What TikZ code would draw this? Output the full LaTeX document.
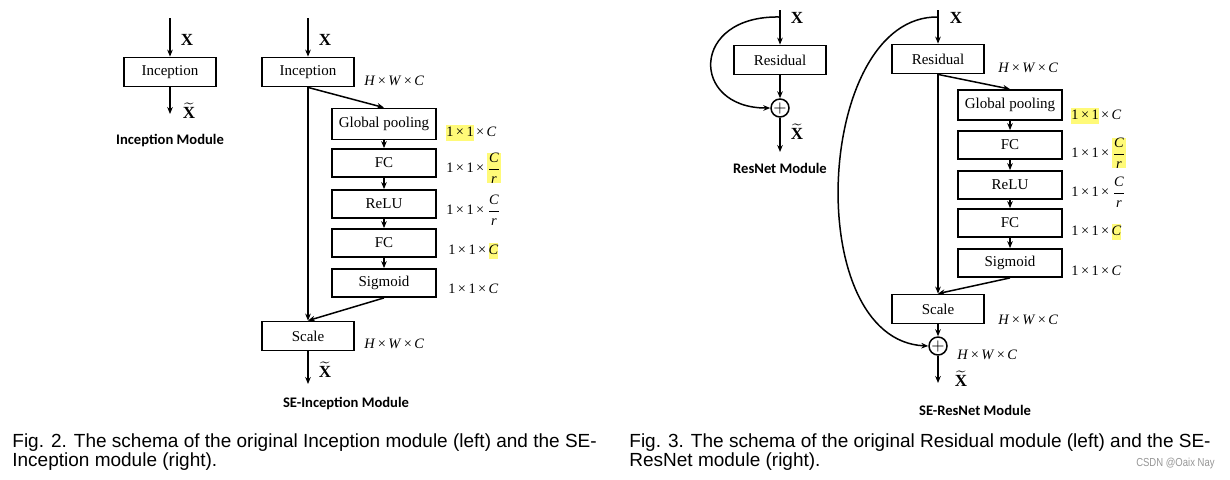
\documentclass[tikz,border=0pt]{standalone}
\usepackage{amsmath}
\usepackage{fontspec}
\setmainfont{Liberation Serif}
\newfontfamily\capfont{Liberation Sans}
\newfontfamily\wmfont[FakeStretch=0.82]{Liberation Sans}
\newfontfamily\modfont{Carlito}
\usetikzlibrary{arrows.meta}
\definecolor{hl}{RGB}{255,250,120}
\definecolor{wm}{RGB}{150,150,150}
\newcommand{\hlb}[1]{{\setlength{\fboxsep}{0pt}\colorbox{hl}{\strut #1}}}
\newcommand{\tx}{\,×\,}
\newcommand{\fr}{$\dfrac{\textit{C}}{\textit{r}}$}
\begin{document}
\begin{tikzpicture}[x=0.5pt,y=-0.5pt,
  blk/.style={draw,line width=0.9pt,inner sep=0pt,font=\fontsize{7.5}{9}\selectfont},
  wbox/.style={blk,minimum width=46pt,minimum height=14.5pt},
  sbox/.style={blk,minimum width=52pt,minimum height=14pt},
  arr/.style={line width=0.75pt,-{Stealth[length=3.5pt,width=2.8pt]}},
  ln/.style={line width=0.75pt},
  dim/.style={font=\fontsize{7.2}{8}\selectfont,anchor=west,inner sep=0pt},
  xl/.style={font=\fontsize{8.5}{9}\selectfont,inner sep=0pt},
  modl/.style={font=\modfont\bfseries\fontsize{7.3}{8}\selectfont,inner sep=0pt},
  captxt/.style={font=\capfont\fontsize{9.5}{10}\selectfont,anchor=base west,inner sep=0pt},
  plus/.style={draw,circle,line width=0.75pt,minimum size=9pt,inner sep=0pt,font=\fontsize{8}{8}\selectfont}]
\useasboundingbox (0,0) rectangle (1230,479);

% ---------- Inception module ----------
\coordinate (iin) at (170,18);
\node[wbox] (inc) at (170,72) {Inception};
\coordinate (iout) at (170,114);
\draw[arr] (iin) -- (inc);
\draw[arr] (inc) -- (iout);
\node[xl] (ix) at (187,40) {$\mathbf{X}$};
\node[xl] (ixt) at (189,111) {$\widetilde{\mathbf{X}}$};
\node[modl] (imod) at (170,141) {Inception Module};

% ---------- SE-Inception module ----------
\coordinate (sin) at (308,18);
\node[wbox] (sinc) at (308,72) {Inception};
\node[sbox,minimum height=15.5pt] (sgp) at (384,124) {Global pooling};
\node[sbox] (sfc1) at (384,163) {FC};
\node[sbox] (srelu) at (384,204) {ReLU};
\node[sbox] (sfc2) at (384,243) {FC};
\node[sbox] (ssig) at (384,283) {Sigmoid};
\node[wbox] (sscale) at (308,336) {Scale};
\coordinate (sout) at (308,384);
\draw[arr] (sin) -- (sinc);
\draw[arr] (sinc.south) -- (sgp.north);
\draw[arr] (sgp) -- (sfc1);
\draw[arr] (sfc1) -- (srelu);
\draw[arr] (srelu) -- (sfc2);
\draw[arr] (sfc2) -- (ssig);
\draw[arr] (ssig.south) -- (sscale.north);
\draw[arr] (sinc.south) -- (sscale.north);
\draw[arr] (sscale) -- (sout);
\node[xl] (sx) at (325,40) {$\mathbf{X}$};
\node[xl] (sxt) at (325,370) {$\widetilde{\mathbf{X}}$};
\node[dim] (sd0) at (364,81) {\textit{H}\tx\textit{W}\tx\textit{C}};
\node[dim] (sd1) at (446,133) {\hlb{1\tx1}\tx\textit{C}};
\node[dim] (sd2) at (446,168) {1\tx1\tx\hlb{\fr}};
\node[dim] (sd3) at (446,210) {1\tx1\tx\fr};
\node[dim] (sd4) at (448,251) {1\tx1\tx\hlb{\textit{C}}};
\node[dim] (sd5) at (448,289) {1\tx1\tx\textit{C}};
\node[dim] (sd6) at (364,344) {\textit{H}\tx\textit{W}\tx\textit{C}};
\node[modl] (smod) at (346,403) {SE-Inception Module};

% ---------- ResNet module ----------
\coordinate (rin) at (780,10);
\coordinate (rtop) at (780,17);
\node[wbox] (rres) at (780,60) {Residual};
\node[plus] (rplus) at (780,108) {$+$};
\coordinate (rout) at (780,152);
\draw[ln] (rin) -- (rtop);
\draw[arr] (rtop) -- (rres);
\draw[arr] (rres) -- (rplus);
\draw[arr] (rplus) -- (rout);
\draw[arr] (rtop) .. controls (690,15) and (690,108) .. (rplus.west);
\node[xl] (rx) at (797,18) {$\mathbf{X}$};
\node[xl] (rxt) at (797,132) {$\widetilde{\mathbf{X}}$};
\node[modl] (rmod) at (780,168) {ResNet Module};

% ---------- SE-ResNet module ----------
\coordinate (ein) at (938,10);
\coordinate (etop) at (938,17);
\node[wbox] (eres) at (938,59) {Residual};
\node[sbox,minimum height=15pt] (egp) at (1010,105) {Global pooling};
\node[sbox] (efc1) at (1010,145) {FC};
\node[sbox] (erelu) at (1010,185) {ReLU};
\node[sbox] (efc2) at (1010,223) {FC};
\node[sbox] (esig) at (1010,263) {Sigmoid};
\node[wbox] (escale) at (938,309) {Scale};
\node[plus] (eplus) at (938,346) {$+$};
\coordinate (eout) at (938,383);
\draw[ln] (ein) -- (etop);
\draw[arr] (etop) -- (eres);
\draw[arr] (eres.south) -- (egp.north);
\draw[arr] (egp) -- (efc1);
\draw[arr] (efc1) -- (erelu);
\draw[arr] (erelu) -- (efc2);
\draw[arr] (efc2) -- (esig);
\draw[arr] (esig.south) -- (escale.north);
\draw[arr] (eres.south) -- (escale.north);
\draw[arr] (escale) -- (eplus);
\draw[arr] (eplus) -- (eout);
\draw[arr] (etop) .. controls (815,15) and (800,340) .. (eplus.west);
\node[xl] (ex) at (956,18) {$\mathbf{X}$};
\node[xl] (ext) at (961,379) {$\widetilde{\mathbf{X}}$};
\node[dim] (ed0) at (998,68) {\textit{H}\tx\textit{W}\tx\textit{C}};
\node[dim] (ed1) at (1071,116) {\hlb{1\tx1}\tx\textit{C}};
\node[dim] (ed2) at (1071,153) {1\tx1\tx\hlb{\fr}};
\node[dim] (ed3) at (1071,192) {1\tx1\tx\fr};
\node[dim] (ed4) at (1071,232) {1\tx1\tx\hlb{\textit{C}}};
\node[dim] (ed5) at (1071,271) {1\tx1\tx\textit{C}};
\node[dim] (ed6) at (998,320) {\textit{H}\tx\textit{W}\tx\textit{C}};
\node[dim] (ed7) at (957,355) {\textit{H}\tx\textit{W}\tx\textit{C}};
\node[modl] (emod) at (975,410) {SE-ResNet Module};

% ---------- captions ----------
\node[captxt] (c2a) at (12,447) {Fig. 2. The schema of the original Inception module (left) and the SE-};
\node[captxt] (c2b) at (12,466) {Inception module (right).};
\node[captxt] (c3a) at (629,447) {Fig. 3. The schema of the original Residual module (left) and the SE-};
\node[captxt] (c3b) at (629,466) {ResNet module (right).};
\node[anchor=base east,inner sep=0pt,text=wm,font=\wmfont\fontsize{5.8}{7}\selectfont] (wmk) at (1215,466) {CSDN @Oaix Nay};
\end{tikzpicture}
\end{document}
